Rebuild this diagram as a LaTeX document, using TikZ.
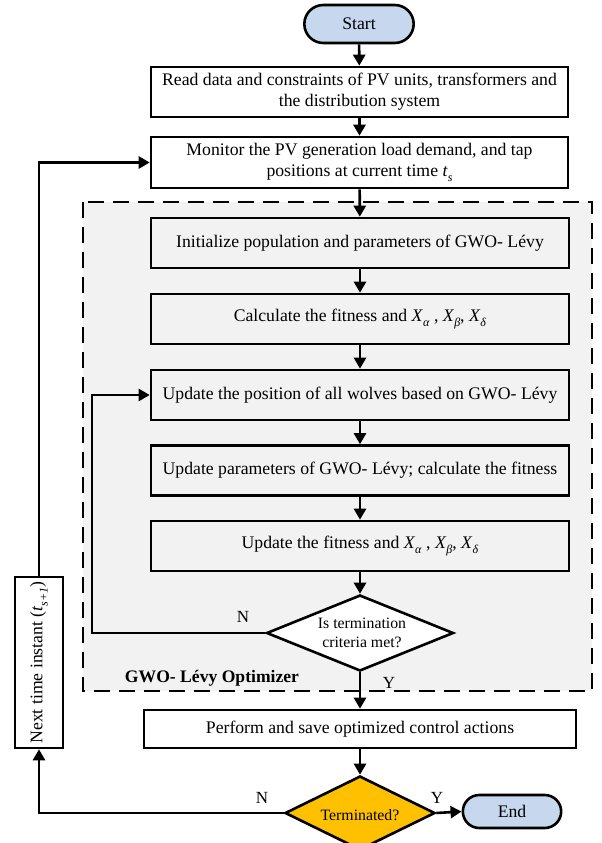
\documentclass[tikz,border=0pt]{standalone}
\usepackage{fontspec}
\setmainfont{Liberation Serif}
\usetikzlibrary{shapes.geometric,shapes.misc,arrows.meta}
\definecolor{bluefill}{HTML}{C6D7EE}
\definecolor{grayfill}{HTML}{F2F2F2}
\definecolor{orangefill}{HTML}{FFC000}
\newcommand\Xsub[1]{\textit{X}\raisebox{-0.3em}{\fontsize{12}{12}\selectfont\textit{#1}}}
\newcommand\tsub[1]{\textit{t}\raisebox{-0.3em}{\fontsize{12}{12}\selectfont\textit{#1}}}
\begin{document}
\begin{tikzpicture}[x=1pt,y=-1pt,
  every node/.style={font=\fontsize{17.7}{21}\selectfont},
  procbox/.style={draw,line width=2.6pt,rectangle,minimum width=418pt,inner sep=2pt,align=center},
  innerbox/.style={procbox,fill=grayfill,minimum height=50pt},
  termbox/.style={draw,line width=2.6pt,rounded rectangle,fill=bluefill},
  decis/.style={draw,line width=2.6pt,diamond,inner sep=0pt},
  conn/.style={line width=2.6pt,-{Triangle[length=11pt,width=12pt]}},
  lbl/.style={font=\fontsize{17}{20}\selectfont}
]
\useasboundingbox (0,0) rectangle (602,843);
% dashed optimizer region
\draw[fill=grayfill,line width=2.6pt,dash pattern=on 16pt off 9pt] (83,202) rectangle (592,691);
\node[font=\fontsize{17.6}{21}\selectfont\bfseries] (optlbl) at (212,678) {GWO- Lévy Optimizer};

\node[termbox,minimum width=116pt,minimum height=38pt] (start) at (359,24) {Start};
\node[procbox,fill=white,minimum width=417pt,minimum height=50pt] (read) at (359.5,92)
  {Read data and constraints of PV units, transformers and\\the distribution system};
\node[procbox,fill=white,minimum width=417pt,minimum height=51pt] (mon) at (359.5,162.5)
  {Monitor the PV generation load demand, and tap\\positions at current time \tsub{s}};
\node[innerbox] (init) at (360,243) {Initialize population and parameters of GWO- Lévy};
\node[innerbox] (calc) at (360,319) {Calculate the fitness and \Xsub{α} , \Xsub{β}, \Xsub{δ}};
\node[innerbox] (upd) at (360,395) {Update the position of all wolves based on GWO- Lévy};
\node[innerbox] (par) at (360,470.5) {Update parameters of GWO- Lévy; calculate the fitness};
\node[innerbox] (fit) at (360,546) {Update the fitness and \Xsub{α} , \Xsub{β}, \Xsub{δ}};
\node[decis,fill=white,minimum width=187pt,minimum height=76pt] (term) at (360,633) {};
\node[align=center,font=\fontsize{15.8}{19}\selectfont] (termtxt) at (362,633) {Is termination\\criteria met?};
\node[procbox,fill=white,minimum width=432pt,minimum height=38pt] (perf) at (360,729)
  {Perform and save optimized control actions};
\node[decis,fill=orangefill,minimum width=150pt,minimum height=74pt] (termd) at (360,813) {};
\node[font=\fontsize{15.8}{19}\selectfont] (termdtxt) at (360,815) {Terminated?};
\node[termbox,minimum width=105pt,minimum height=33pt] (end) at (512,811.5) {End};
\node[draw,line width=2.6pt,rotate=90,minimum width=171pt,minimum height=48pt,fill=white,inner sep=0pt,
  font=\fontsize{17.7}{21}\selectfont]
  (next) at (39,662.5) {Next time instant (\tsub{s+1})};

\coordinate (loopc) at (92,633);

\draw[conn] (start) -- (read);
\draw[conn] (read) -- (mon);
\draw[conn] (mon) -- (init);
\draw[conn] (init) -- (calc);
\draw[conn] (calc) -- (upd);
\draw[conn] (upd) -- (par);
\draw[conn] (par) -- (fit);
\draw[conn] (fit) -- (term);
\draw[conn] (term.south) -- (perf);
\draw[conn] (perf) -- (termd.north);
\draw[conn] (termd.east) -- (end.west);
\draw[conn] (term.west) -- (loopc) |- (upd.west);
\draw[conn] (termd.west) -| (next.west);
\draw[conn] (next.east) |- (mon.west);

\node[lbl] (nlbl1) at (243,617) {N};
\node[lbl] (ylbl1) at (389,683) {Y};
\node[lbl] (nlbl2) at (262,798) {N};
\node[lbl] (ylbl2) at (437,798) {Y};
\end{tikzpicture}
\end{document}
